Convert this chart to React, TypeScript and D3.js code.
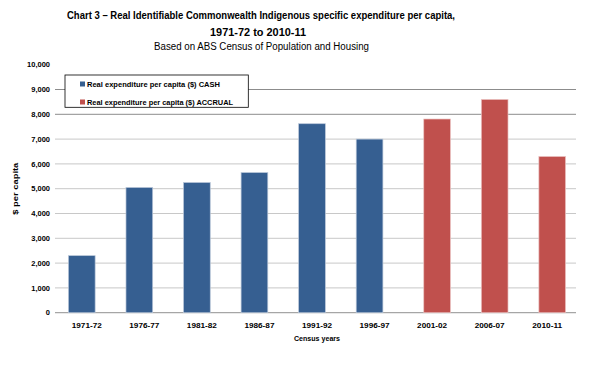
import React from "react";
import * as d3 from "d3";

const categories = ["1971-72", "1976-77", "1981-82", "1986-87", "1991-92", "1996-97", "2001-02", "2006-07", "2010-11"];
const cashValues: (number | null)[] = [2300, 5050, 5250, 5650, 7620, 7000, null, null, null];
const accrualValues: (number | null)[] = [null, null, null, null, null, null, 7810, 8600, 6300];
const yTicks = [0, 1000, 2000, 3000, 4000, 5000, 6000, 7000, 8000, 9000, 10000];
const seriesNames = ["Real expenditure per capita ($) CASH", "Real expenditure per capita ($) ACCRUAL"];
const colors = ["#365f91", "#c0504d"];

const W = 598, H = 383;
const plotLeft = 58, plotRight = 576, plotTop = 64.7, plotBottom = 312.7;

export default function App() {
  const x = d3.scaleBand<string>().domain(categories).range([plotLeft, plotRight]);
  const y = d3.scaleLinear().domain([0, 10000]).range([plotBottom, plotTop]);
  const barW = 26.7;
  const offsets = [-5, 5];
  const series = [cashValues, accrualValues];
  const font = "'Liberation Sans', Arial, sans-serif";
  const legendLens = [133, 146];

  const gridColor = (t: number) => (t === 8000 || t === 9000 ? "#8c8c8c" : t === 0 ? "#a6a6a6" : "#c8c8c8");

  return (
    <svg width={W} height={H} style={{ position: "absolute", left: 0, top: 0, background: "#fff" }} fontFamily={font}>
      <rect x={0} y={0} width={W} height={H} fill="#fff" />
      {/* Title */}
      <text x={261} y={19} textAnchor="middle" fontSize={10} fontWeight="bold" textLength={388} lengthAdjust="spacingAndGlyphs">
        Chart 3 – Real Identifiable Commonwealth Indigenous specific expenditure per capita,
      </text>
      <text x={258} y={35.5} textAnchor="middle" fontSize={10} fontWeight="bold" textLength={96} lengthAdjust="spacingAndGlyphs">
        1971-72 to 2010-11
      </text>
      <text x={261.5} y={50} textAnchor="middle" fontSize={10} textLength={215} lengthAdjust="spacingAndGlyphs">
        Based on ABS Census of Population and Housing
      </text>

      {/* Grid lines */}
      {yTicks.filter((t) => t !== 10000).map((t) => (
        <line key={t} x1={plotLeft - 3} x2={plotRight} y1={y(t)} y2={y(t)} stroke={gridColor(t)} strokeWidth={t === 0 ? 1.2 : 1} />
      ))}

      {/* Y tick labels */}
      {yTicks.map((t) => (
        <text key={t} x={50} y={y(t) + 2.7} textAnchor="end" fontSize={7.5} fontWeight="bold" fill="#000">
          {d3.format(",")(t)}
        </text>
      ))}

      {/* Bars */}
      {series.map((vals, si) =>
        categories.map((c, i) => {
          const v = vals[i];
          if (v == null) return null;
          const cx = (x(c) as number) + x.bandwidth() / 2 + offsets[si];
          return (
            <rect key={si + "-" + c} x={cx - barW / 2} y={y(v)} width={barW} height={y(0) - y(v)}
              fill={colors[si]} stroke={si === 0 ? "#b9c7d9" : "#ebc4c3"} strokeWidth={0.7} />
          );
        })
      )}

      {/* X labels */}
      {categories.map((c) => (
        <text key={c} x={(x(c) as number) + x.bandwidth() / 2} y={327.5} textAnchor="middle" fontSize={7.5} fontWeight="bold"
          textLength={30} lengthAdjust="spacingAndGlyphs">
          {c}
        </text>
      ))}

      {/* Axis titles */}
      <text x={317} y={340.5} textAnchor="middle" fontSize={7.5} fontWeight="bold" textLength={46} lengthAdjust="spacingAndGlyphs">Census years</text>
      <text transform={`translate(18,${y(5000)}) rotate(-90)`} textAnchor="middle" fontSize={8} fontWeight="bold"
        textLength={52} lengthAdjust="spacingAndGlyphs">$ per capita</text>

      {/* Legend */}
      <rect x={65} y={75} width={183.3} height={32.3} fill="#fff" stroke="#000" strokeWidth={0.8} />
      {seriesNames.map((n, i) => (
        <g key={n}>
          <rect x={80} y={81.5 + i * 18} width={5} height={5} fill={colors[i]} />
          <text x={87} y={86.5 + i * 18} fontSize={7} fontWeight="bold" textLength={legendLens[i]} lengthAdjust="spacingAndGlyphs">{n}</text>
        </g>
      ))}
    </svg>
  );
}
